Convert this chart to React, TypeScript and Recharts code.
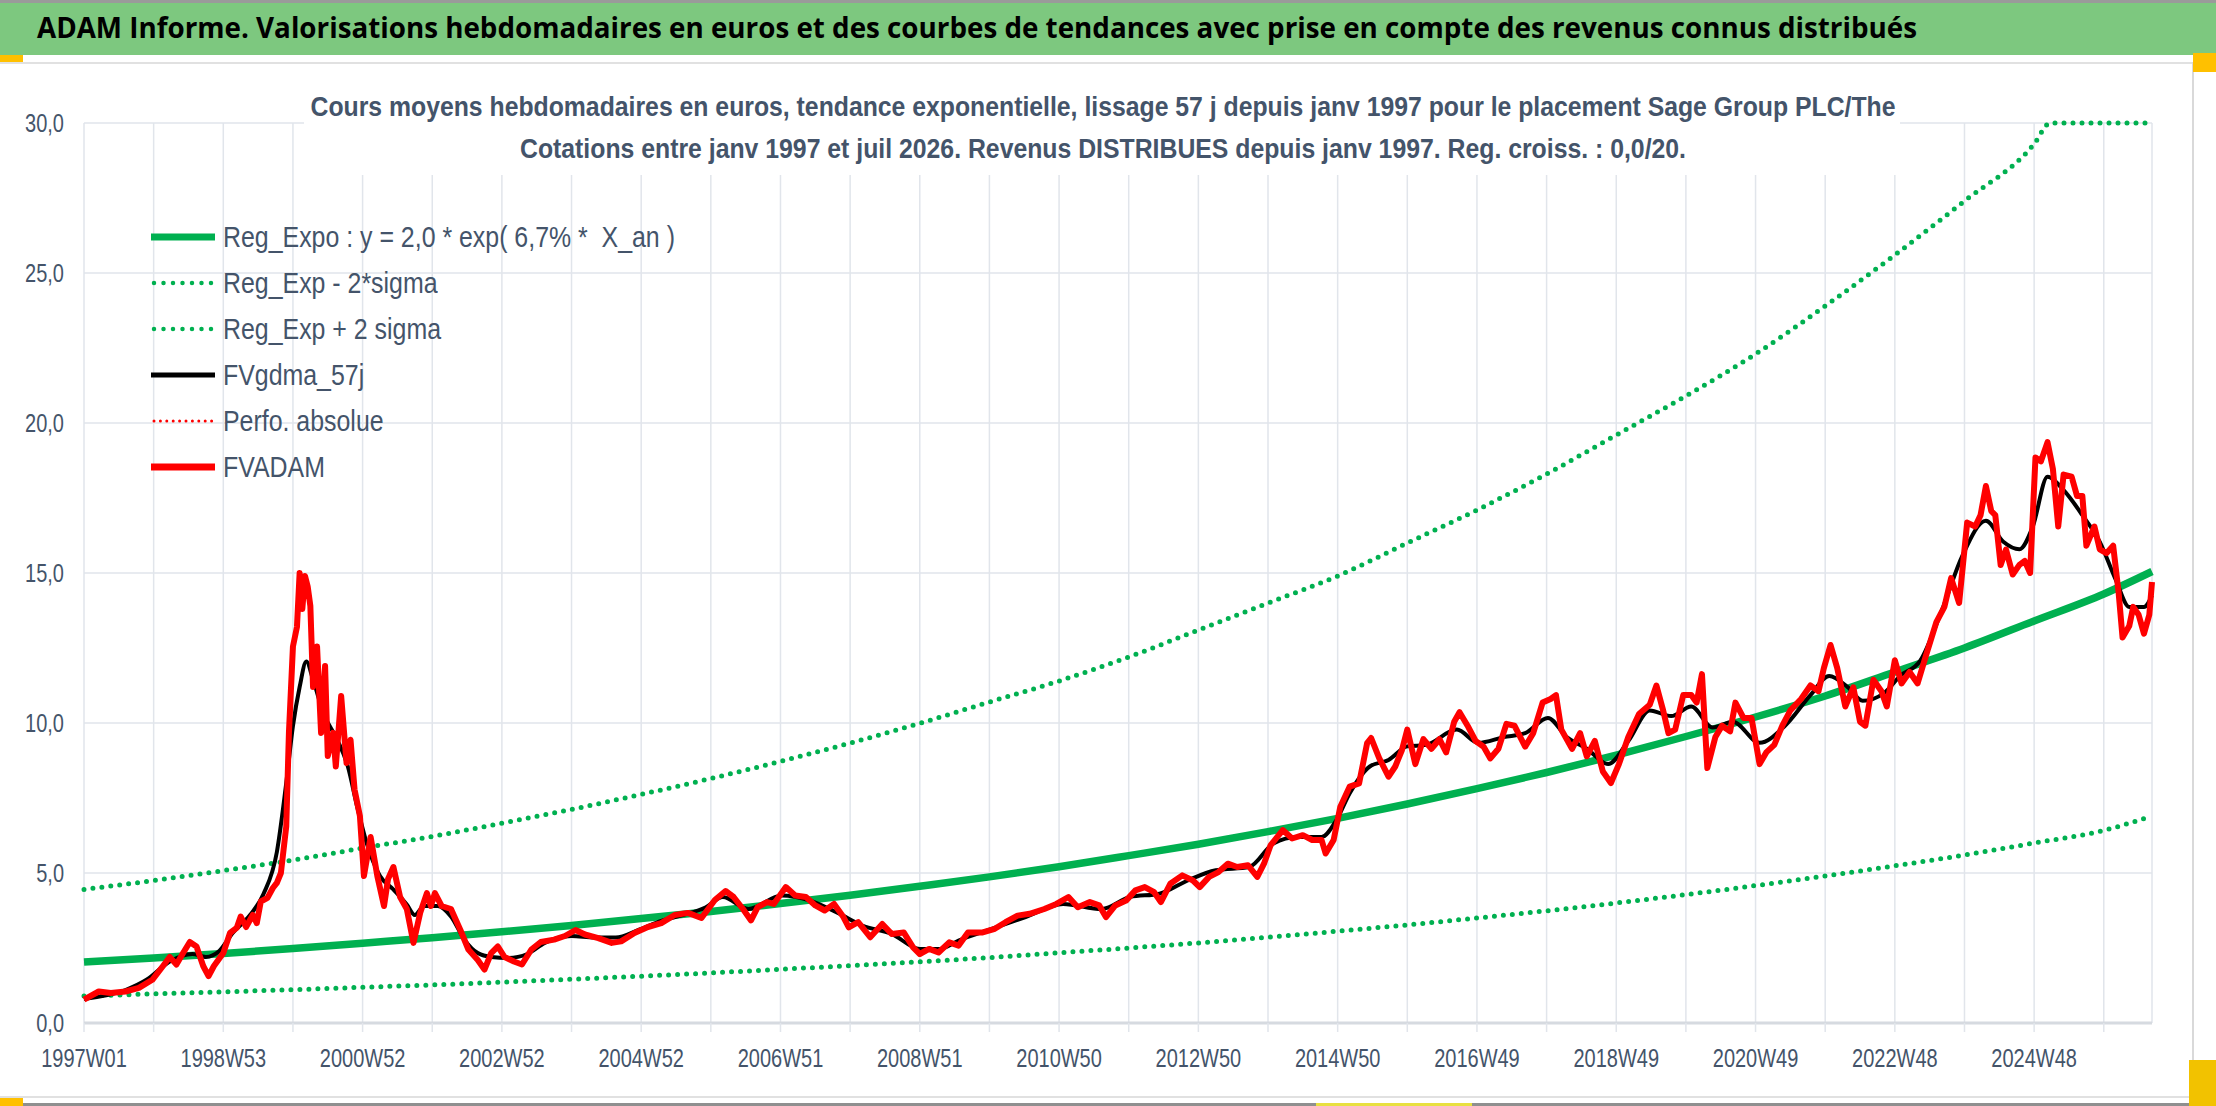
import { CartesianGrid, Legend, Line, LineChart, XAxis, YAxis } from 'recharts';

const CHART_FONT = '"Liberation Sans", Arial, sans-serif';
const TITLE_FONT = '"Open Sans", "Noto Sans", sans-serif';
const SLATE = '#44546A';
const GRID = '#E1E5EB';
const GREEN = '#00B050';
const SQUEEZE = 0.8; // chart texts are tall and narrow

// x axis : weeks counted from 1997W01, a gridline every 52 weeks, a label every 104
const xTickWeeks = [
  0, 52, 104, 156, 208, 260, 312, 364, 416, 468, 520, 572, 624, 676, 728,
  780, 832, 884, 936, 988, 1040, 1092, 1144, 1196, 1248, 1300, 1352, 1404, 1456, 1508,
];
const xTickLabels = [
  '1997W01', '1998W53', '2000W52', '2002W52', '2004W52', '2006W51', '2008W51', '2010W50',
  '2012W50', '2014W50', '2016W49', '2018W49', '2020W49', '2022W48', '2024W48',
];
const lastWeek = 1544;
const yTicks = [0, 5, 10, 15, 20, 25, 30];

// exponential trend and its +/- 2 sigma band, read once a year
const trendWeeks = [
  0, 52, 104, 156, 208, 260, 312, 364, 416, 468, 520, 572, 624, 676, 728, 780,
  832, 884, 936, 988, 1040, 1092, 1144, 1196, 1248, 1300, 1352, 1404, 1456, 1508, 1544,
];
const regExpo = [
  2.03, 2.17, 2.32, 2.48, 2.66, 2.84, 3.04, 3.25, 3.48, 3.72, 3.98, 4.26, 4.56, 4.87, 5.21, 5.58,
  5.96, 6.38, 6.82, 7.3, 7.81, 8.35, 8.93, 9.55, 10.2, 10.9, 11.7, 12.5, 13.4, 14.3, 15.05,
];
const regLow = [
  0.9, 0.97, 1.04, 1.11, 1.19, 1.27, 1.36, 1.46, 1.56, 1.67, 1.79, 1.91, 2.04, 2.18, 2.34, 2.5,
  2.67, 2.86, 3.06, 3.27, 3.5, 3.74, 4.0, 4.28, 4.58, 4.9, 5.24, 5.6, 6.0, 6.42, 6.9,
];
const regHighWeeks = [
  0, 52, 104, 156, 208, 260, 312, 364, 416, 468, 520, 572, 624, 676, 728, 780,
  832, 884, 936, 988, 1040, 1092, 1144, 1196, 1248, 1300, 1352, 1404, 1456, 1468, 1508, 1544,
];
const regHigh = [
  4.45, 4.75, 5.08, 5.43, 5.83, 6.22, 6.66, 7.12, 7.62, 8.15, 8.72, 9.33, 9.99, 10.7, 11.4, 12.2,
  13.1, 14.0, 14.9, 16.0, 17.1, 18.3, 19.6, 20.9, 22.3, 23.9, 25.6, 27.4, 29.3, 30, 30, 30,
];

// FVADAM weekly valuation (sampled)
const adamWeeks = [
  0, 11, 20, 31, 41, 51, 59, 64, 69, 74, 79, 84, 89, 93, 97, 104, 109, 114, 117, 121, 126, 129,
  132, 137, 141, 144, 147, 151, 153, 156, 159, 161, 163, 165, 167, 169, 171, 174, 177, 180, 182,
  186, 188, 192, 196, 199, 202, 206, 209, 214, 219, 224, 227, 231, 236, 241, 246, 251, 256, 259,
  262, 267, 274, 281, 287, 294, 299, 304, 309, 314, 321, 327, 334, 341, 351, 359, 367, 374, 384,
  394, 401, 411, 421, 431, 441, 451, 461, 467, 471, 479, 485, 492, 498, 503, 510, 515, 524, 531,
  539, 546, 553, 560, 567, 571, 578, 587, 596, 603, 612, 619, 624, 631, 638, 646, 653, 660, 671,
  680, 688, 697, 706, 717, 726, 735, 742, 751, 758, 763, 770, 778, 785, 792, 799, 804, 811, 820,
  828, 833, 840, 847, 854, 861, 869, 876, 881, 886, 895, 902, 910, 917, 924, 927, 933, 938, 945,
  952, 958, 961, 967, 974, 979, 984, 988, 994, 1000, 1006, 1012, 1017, 1023, 1027, 1033, 1039,
  1045, 1050, 1056, 1062, 1068, 1076, 1082, 1089, 1095, 1099, 1103, 1111, 1117, 1122, 1128, 1134,
  1140, 1146, 1153, 1161, 1169, 1174, 1179, 1183, 1188, 1194, 1200, 1204, 1208, 1212, 1218, 1223,
  1229, 1233, 1239, 1245, 1251, 1256, 1262, 1268, 1274, 1282, 1289, 1295, 1299, 1304, 1309, 1315,
  1321, 1326, 1330, 1336, 1342, 1346, 1352, 1357, 1363, 1369, 1375, 1383, 1389, 1394, 1400, 1406,
  1412, 1416, 1420, 1424, 1427, 1431, 1435, 1440, 1445, 1449, 1453, 1457, 1461, 1466, 1470, 1474,
  1478, 1484, 1488, 1492, 1495, 1501, 1505, 1510, 1515, 1519, 1522, 1527, 1530, 1534, 1538, 1542,
  1544,
];
const adamValues = [
  0.78, 1.05, 1.0, 1.05, 1.17, 1.44, 1.9, 2.2, 1.95, 2.33, 2.7, 2.55, 1.9, 1.56, 1.9, 2.33, 3.0,
  3.17, 3.55, 3.2, 3.6, 3.33, 4.05, 4.17, 4.5, 4.67, 5.0, 6.55, 9.67, 12.55, 13.2, 15.0, 13.8,
  14.9, 14.55, 13.9, 11.2, 12.55, 9.67, 11.9, 8.9, 9.67, 8.55, 10.9, 8.67, 9.44, 7.78, 6.9, 4.9,
  6.2, 4.9, 3.9, 4.8, 5.2, 4.2, 3.8, 2.67, 3.67, 4.33, 3.9, 4.33, 3.9, 3.8, 3.1, 2.45, 2.1, 1.78,
  2.33, 2.55, 2.2, 2.05, 1.95, 2.45, 2.7, 2.78, 2.9, 3.1, 2.95, 2.83, 2.67, 2.72, 3.0, 3.2, 3.33,
  3.6, 3.67, 3.5, 3.86, 4.1, 4.4, 4.2, 3.8, 3.42, 3.86, 4.03, 3.97, 4.53, 4.25, 4.2, 3.92, 3.75,
  3.97, 3.53, 3.19, 3.36, 2.86, 3.3, 2.97, 3.02, 2.52, 2.3, 2.47, 2.35, 2.69, 2.58, 3.02, 3.02,
  3.14, 3.36, 3.58, 3.64, 3.8, 3.97, 4.2, 3.86, 4.03, 3.92, 3.53, 3.92, 4.08, 4.42, 4.53, 4.36,
  4.03, 4.64, 4.92, 4.75, 4.53, 4.87, 5.03, 5.31, 5.2, 5.26, 4.87, 5.31, 5.93, 6.43, 6.15, 6.26,
  6.1, 6.1, 5.65, 6.1, 7.21, 7.88, 7.99, 9.33, 9.5, 8.83, 8.21, 8.55, 9.1, 9.78, 8.63, 9.46, 9.14,
  9.46, 9.02, 10.04, 10.36, 9.91, 9.4, 9.21, 8.82, 9.14, 9.97, 9.91, 9.21, 9.66, 10.68, 10.8,
  10.93, 9.78, 9.14, 9.66, 8.89, 9.4, 8.38, 8.0, 8.63, 9.53, 10.3, 10.61, 11.25, 10.42, 9.66,
  9.78, 10.93, 10.93, 10.68, 11.63, 8.5, 9.53, 9.91, 9.72, 10.68, 10.17, 10.17, 8.63, 9.02, 9.27,
  9.91, 10.42, 10.8, 11.25, 11.06, 11.83, 12.6, 11.83, 10.55, 11.19, 10.04, 9.91, 11.44, 11.06,
  10.55, 12.09, 11.32, 11.7, 11.32, 12.21, 13.36, 13.87, 14.83, 14.0, 16.68, 16.55, 16.93, 17.9,
  17.06, 16.93, 15.27, 15.78, 14.95, 15.27, 15.4, 15.0, 18.85, 18.72, 19.36, 18.47, 16.55, 18.28,
  18.21, 17.57, 17.57, 15.91, 16.55, 15.79, 15.66, 15.91, 14.38, 12.85, 13.23, 13.87, 13.61,
  12.98, 13.61, 14.7,
];

// FVgdma_57j smoothed valuation
const smoothWeeks = [
  0, 31, 47, 64, 81, 91, 101, 111, 124, 134, 144, 151, 156, 161, 166, 171, 179, 189, 197, 204,
  211, 221, 231, 241, 247, 254, 264, 274, 284, 294, 304, 317, 331, 344, 364, 381, 397, 414, 431,
  447, 464, 477, 496, 521, 542, 564, 581, 603, 624, 639, 653, 674, 703, 731, 760, 781, 803, 824,
  845, 870, 888, 906, 924, 935, 945, 960, 974, 988, 1002, 1025, 1041, 1060, 1076, 1093, 1107,
  1122, 1138, 1153, 1169, 1185, 1200, 1216, 1231, 1251, 1270, 1289, 1303, 1317, 1328, 1344, 1356,
  1371, 1387, 1402, 1420, 1433, 1445, 1455, 1466, 1478, 1492, 1505, 1517, 1527, 1538, 1544,
];
const smoothValues = [
  0.8, 1.1, 1.45, 2.05, 2.3, 2.2, 2.4, 3.0, 3.6, 4.3, 5.7, 8.0, 9.9, 11.2, 12.05, 11.45, 10.3,
  9.45, 8.55, 7.2, 6.0, 4.9, 4.45, 3.95, 3.6, 3.9, 3.9, 3.55, 2.78, 2.33, 2.2, 2.17, 2.3, 2.67,
  2.9, 2.85, 2.85, 3.1, 3.4, 3.6, 3.85, 4.2, 3.8, 4.25, 4.08, 3.64, 3.25, 2.97, 2.47, 2.47, 2.75,
  3.08, 3.53, 3.97, 3.8, 4.2, 4.31, 4.75, 5.09, 5.2, 5.98, 6.2, 6.2, 6.76, 7.66, 8.55, 8.77, 9.22,
  9.27, 9.78, 9.34, 9.53, 9.66, 10.17, 9.53, 9.14, 8.63, 9.4, 10.42, 10.23, 10.55, 9.85, 10.04,
  9.34, 9.91, 10.93, 11.57, 11.19, 10.74, 11.0, 11.57, 12.08, 13.74, 15.53, 16.74, 16.04, 15.79,
  16.55, 18.21, 17.76, 16.93, 16.04, 14.77, 13.87, 13.87, 14.25,
];

const toPoints = (weeks: number[], values: number[]) =>
  weeks.map((week, i) => ({ week, value: values[i] }));

const regExpoData = toPoints(trendWeeks, regExpo);
const regLowData = toPoints(trendWeeks, regLow);
const regHighData = toPoints(regHighWeeks, regHigh);
const smoothData = toPoints(smoothWeeks, smoothValues);
const adamData = toPoints(adamWeeks, adamValues);

const labelFor = (week: number) => {
  const i = xTickWeeks.indexOf(week);
  return i >= 0 && i % 2 === 0 ? xTickLabels[i / 2] : '';
};

const NAME_REG = 'Reg_Expo : y = 2,0 * exp( 6,7% *  X_an )';
const NAME_LOW = 'Reg_Exp - 2*sigma';
const NAME_HIGH = 'Reg_Exp + 2 sigma';
const NAME_SMOOTH = 'FVgdma_57j';
const NAME_PERF = 'Perfo. absolue';
const NAME_ADAM = 'FVADAM';
const legendOrder = [NAME_REG, NAME_LOW, NAME_HIGH, NAME_SMOOTH, NAME_PERF, NAME_ADAM];

const swatches: Record<string, { width: number; dash?: string }> = {
  [NAME_REG]: { width: 7 },
  [NAME_LOW]: { width: 4.5, dash: '0 9.5' },
  [NAME_HIGH]: { width: 4.5, dash: '0 9.5' },
  [NAME_SMOOTH]: { width: 5 },
  [NAME_PERF]: { width: 3, dash: '0 6.4' },
  [NAME_ADAM]: { width: 7 },
};

function XTick({ x, y, payload }: any) {
  return (
    <text
      transform={`translate(${x},${y}) scale(${SQUEEZE},1)`}
      textAnchor="middle"
      dy="0.74em"
      fill={SLATE}
      fontSize={25}
      fontFamily={CHART_FONT}
    >
      {labelFor(payload.value)}
    </text>
  );
}

function YTick({ x, y, payload }: any) {
  return (
    <text
      transform={`translate(${x},${y}) scale(${SQUEEZE},1)`}
      textAnchor="end"
      dy="0.36em"
      fill={SLATE}
      fontSize={25}
      fontFamily={CHART_FONT}
    >
      {Number(payload.value).toFixed(1).replace('.', ',')}
    </text>
  );
}

function LegendList({ payload }: any) {
  const items = [...(payload || [])].sort(
    (a: any, b: any) => legendOrder.indexOf(a.value) - legendOrder.indexOf(b.value),
  );
  return (
    <div style={{ fontFamily: CHART_FONT, fontSize: 30, color: SLATE }}>
      {items.map((entry: any) => {
        const sw = swatches[entry.value] || { width: 4 };
        return (
          <div key={entry.value} style={{ display: 'flex', alignItems: 'center', height: 46 }}>
            <svg width={72} height={14} style={{ display: 'block', flex: 'none' }}>
              <line
                x1={sw.dash ? 7 : 4}
                y1={7}
                x2={sw.dash ? 67 : 68}
                y2={7}
                stroke={entry.color}
                strokeWidth={sw.width}
                strokeDasharray={sw.dash}
                strokeLinecap={sw.dash ? 'round' : 'butt'}
              />
            </svg>
            <span
              style={{
                display: 'inline-block',
                marginLeft: 4,
                whiteSpace: 'pre',
                lineHeight: 1,
                transform: 'scaleX(0.83)',
                transformOrigin: 'left center',
              }}
            >
              {entry.value}
            </span>
          </div>
        );
      })}
    </div>
  );
}

export default function App() {
  return (
    <div
      style={{
        position: 'absolute',
        left: 0,
        top: 0,
        width: 2216,
        height: 1106,
        background: '#ffffff',
        overflow: 'hidden',
      }}
    >
      <LineChart width={2216} height={1106} margin={{ top: 123, right: 64, bottom: 0, left: 0 }}>
        <CartesianGrid stroke={GRID} strokeWidth={1.5} />
        <XAxis
          type="number"
          dataKey="week"
          domain={[0, lastWeek]}
          ticks={xTickWeeks}
          interval={0}
          height={83}
          tickSize={9}
          tickMargin={16}
          axisLine={{ stroke: '#D6DAE0', strokeWidth: 3 }}
          tickLine={{ stroke: GRID, strokeWidth: 1.5 }}
          tick={<XTick />}
        />
        <YAxis
          type="number"
          domain={[0, 30]}
          ticks={yTicks}
          width={84}
          axisLine={false}
          tickLine={false}
          tickMargin={14}
          tick={<YTick />}
        />
        <Legend
          layout="vertical"
          align="center"
          verticalAlign="middle"
          wrapperStyle={{ left: 147, top: 214, width: 720 }}
          content={<LegendList />}
        />
        <Line
          data={regExpoData}
          dataKey="value"
          name={NAME_REG}
          type="monotone"
          stroke={GREEN}
          strokeWidth={7.5}
          dot={false}
          isAnimationActive={false}
        />
        <Line
          data={regLowData}
          dataKey="value"
          name={NAME_LOW}
          type="monotone"
          stroke={GREEN}
          strokeWidth={5}
          strokeDasharray="0 9"
          strokeLinecap="round"
          dot={false}
          isAnimationActive={false}
        />
        <Line
          data={regHighData}
          dataKey="value"
          name={NAME_HIGH}
          type="monotone"
          stroke={GREEN}
          strokeWidth={5}
          strokeDasharray="0 9"
          strokeLinecap="round"
          dot={false}
          isAnimationActive={false}
        />
        <Line
          data={smoothData}
          dataKey="value"
          name={NAME_SMOOTH}
          type="monotone"
          stroke="#000000"
          strokeWidth={4}
          strokeLinejoin="round"
          dot={false}
          isAnimationActive={false}
        />
        <Line
          data={[]}
          dataKey="value"
          name={NAME_PERF}
          stroke="#FF0000"
          strokeWidth={3}
          strokeDasharray="0 6"
          strokeLinecap="round"
          dot={false}
          isAnimationActive={false}
        />
        <Line
          data={adamData}
          dataKey="value"
          name={NAME_ADAM}
          type="linear"
          stroke="#FF0000"
          strokeWidth={6}
          strokeLinejoin="round"
          dot={false}
          isAnimationActive={false}
        />
      </LineChart>

      <svg
        width={2216}
        height={1106}
        style={{ position: 'absolute', left: 0, top: 0, pointerEvents: 'none' }}
      >
        <rect x={0} y={0} width={2216} height={3} fill="#9A9A9A" />
        <rect x={0} y={3} width={2216} height={52} fill="#7DC87F" />
        <text
          x={37}
          y={38}
          fontFamily={TITLE_FONT}
          fontWeight={700}
          fontSize={29}
          fill="#000000"
          textLength={1880}
          lengthAdjust="spacingAndGlyphs"
        >
          ADAM Informe. Valorisations hebdomadaires en euros et des courbes de tendances avec prise en compte des revenus connus distribués
        </text>
        <rect x={0} y={62} width={2193} height={2} fill="#E1E1E1" />
        <rect x={2192} y={62} width={2} height={1036} fill="#D9D9D9" />
        <rect x={0} y={1096} width={2193} height={2} fill="#E1E1E1" />
        <rect x={0} y={1103} width={2216} height={3} fill="#8F8F8F" />
        <rect x={0} y={55} width={23} height={7} fill="#FFC000" />
        <rect x={2193} y={53} width={23} height={19} fill="#FFC000" />
        <rect x={2189} y={1060} width={27} height={46} fill="#F2C200" />
        <rect x={0} y={1098} width={23} height={8} fill="#FFC000" />
        <rect x={1316} y={1103} width={156} height={3} fill="#E8E040" />

        <rect x={304} y={66} width={1596} height={109} fill="#ffffff" />
        <text
          x={1103}
          y={116}
          textAnchor="middle"
          fontFamily={CHART_FONT}
          fontWeight={700}
          fontSize={27}
          fill={SLATE}
          textLength={1585}
          lengthAdjust="spacingAndGlyphs"
        >
          Cours moyens hebdomadaires en euros, tendance exponentielle, lissage 57 j depuis janv 1997 pour le placement Sage Group PLC/The
        </text>
        <text
          x={1103}
          y={158}
          textAnchor="middle"
          fontFamily={CHART_FONT}
          fontWeight={700}
          fontSize={27}
          fill={SLATE}
          textLength={1166}
          lengthAdjust="spacingAndGlyphs"
        >
          Cotations entre janv 1997 et juil 2026. Revenus DISTRIBUES depuis janv 1997. Reg. croiss. : 0,0/20.
        </text>
      </svg>
    </div>
  );
}
